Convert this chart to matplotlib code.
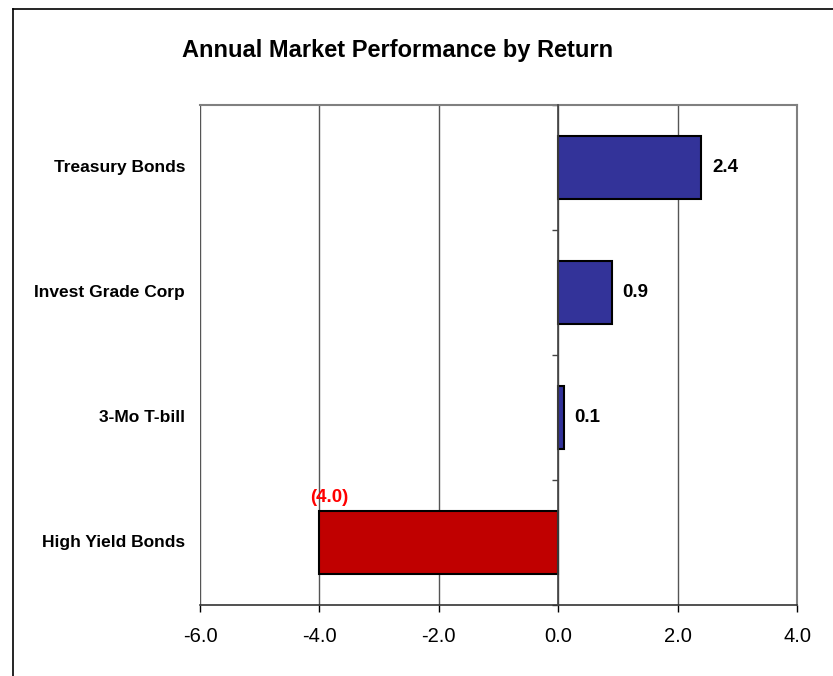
import matplotlib
matplotlib.use("Agg")
import matplotlib.pyplot as plt
import matplotlib.ticker as mticker
from matplotlib.lines import Line2D

plt.rcParams["font.family"] = ["Liberation Sans", "DejaVu Sans"]

categories = ["Treasury Bonds", "Invest Grade Corp", "3-Mo T-bill", "High Yield Bonds"]
returns = [2.4, 0.9, 0.1, -4.0]
x_ticks = [-6.0, -4.0, -2.0, 0.0, 2.0, 4.0]

BLUE = "#333399"
RED = "#C00000"

fig = plt.figure(figsize=(8.33, 6.76), dpi=100)
ax = fig.add_axes([0.2401, 0.105, 0.7167, 0.7397])

ypos = list(range(len(categories)))
colors = [BLUE if v >= 0 else RED for v in returns]
ax.barh(ypos, returns, height=0.5, color=colors, edgecolor="black", linewidth=1.5, zorder=3)

# value labels: positives to the right, negatives in brackets above the bar
for y, v in zip(ypos, returns):
    if v >= 0:
        ax.annotate(f"{v:.1f}", (v, y), xytext=(7.5, 0), textcoords="offset points",
                    ha="left", va="center", fontsize=13.5, fontweight="bold", color="black")
    else:
        ax.annotate(f"({abs(v):.1f})", (v, y - 0.25), xytext=(7, 3.5), textcoords="offset points",
                    ha="center", va="bottom", fontsize=13.5, fontweight="bold", color="#FF0000")

ax.set_xlim(x_ticks[0], x_ticks[-1])
ax.set_ylim(len(categories) - 0.5, -0.5)
ax.xaxis.set_major_locator(mticker.FixedLocator(x_ticks))
ax.xaxis.set_major_formatter(mticker.FormatStrFormatter("%.1f"))
ax.tick_params(axis="x", direction="out", length=5, width=1, labelsize=14.5, pad=10.5, color="black")
ax.grid(True, axis="x", color="#555555", linewidth=1, zorder=1)

# category axis sits on the zero line, ticks between categories
ax.spines["left"].set_position(("data", 0))
ax.spines["left"].set_color("#444444")
ax.spines["left"].set_linewidth(1.2)
ax.spines["left"].set_zorder(4)
ax.yaxis.set_major_locator(mticker.FixedLocator([i - 0.5 for i in range(len(categories) + 1)]))
ax.tick_params(axis="y", direction="out", length=4, width=1, labelleft=False, color="#444444")
for y, name in zip(ypos, categories):
    ax.text(-0.025, y, name, transform=ax.get_yaxis_transform(), ha="right", va="center",
            fontsize=12.5, fontweight="bold")

for side in ["top", "right"]:
    ax.spines[side].set_color("#808080")
    ax.spines[side].set_linewidth(1.5)
ax.spines["bottom"].set_color("#333333")
ax.spines["bottom"].set_linewidth(1.2)

fig.text(0.477, 0.926, "Annual Market Performance by Return", ha="center", va="center",
         fontsize=17, fontweight="bold")

# outer chart frame (top and left edges only)
fig.add_artist(Line2D([13 / 833, 1.0], [1 - 9 / 676, 1 - 9 / 676], color="black", linewidth=1.2))
fig.add_artist(Line2D([13 / 833, 13 / 833], [0.0, 1 - 9 / 676], color="black", linewidth=1.2))

fig.savefig("out.png", dpi=100, facecolor="white")
